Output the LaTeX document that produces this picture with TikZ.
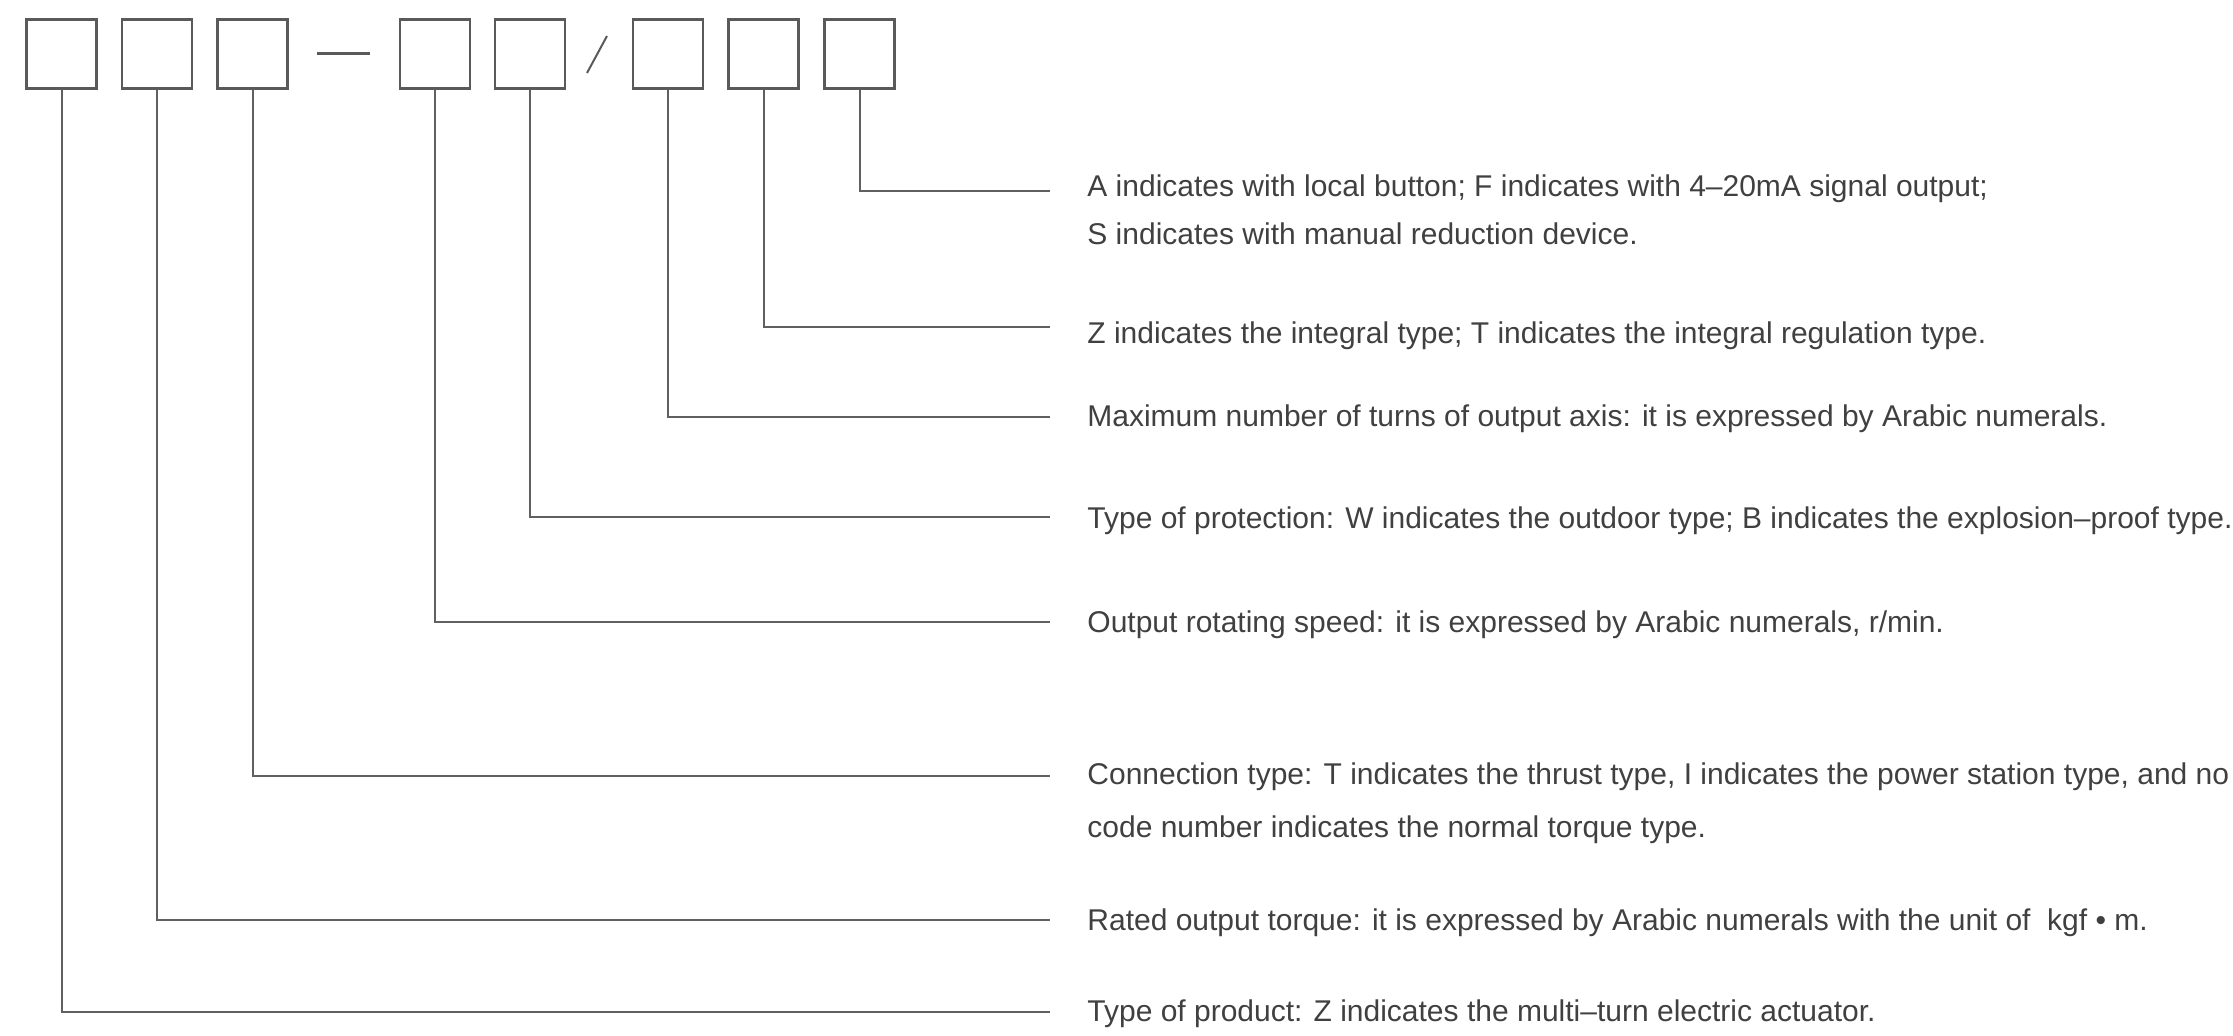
\documentclass[tikz,border=0pt]{standalone}
\usepackage{fontspec}
\setmainfont{Liberation Sans}
\definecolor{boxgray}{HTML}{5A5A5A}
\definecolor{leadgray}{HTML}{606060}
\definecolor{textgray}{HTML}{404040}

\begin{document}
\begin{tikzpicture}[x=0.5pt,y=-0.5pt,
  codebox/.style={draw=boxgray,line width=1.2pt,minimum width=35pt,minimum height=34.5pt,inner sep=0pt},
  lead/.style={draw=leadgray,line width=1pt},
  desc/.style={anchor=base west,inner sep=0pt,text=textgray,align=left,
    font=\fontsize{15pt}{24pt}\selectfont}]
\useasboundingbox (0,0) rectangle (2233,1036);
\node (b1) [codebox] at (61.5,54) {};
\node (b2) [codebox] at (157,54) {};
\node (b3) [codebox] at (252.5,54) {};
\node (b4) [codebox] at (435,54) {};
\node (b5) [codebox] at (530,54) {};
\node (b6) [codebox] at (668,54) {};
\node (b7) [codebox] at (763.5,54) {};
\node (b8) [codebox] at (859.5,54) {};
\draw [boxgray,line width=1.5pt] (317,54) -- (370,54);
\draw [boxgray,line width=1pt] (607,36) -- (587,73);
\coordinate (e8) at (1050,191);
\coordinate (e7) at (1050,327);
\coordinate (e6) at (1050,417);
\coordinate (e5) at (1050,517);
\coordinate (e4) at (1050,622);
\coordinate (e3) at (1050,776);
\coordinate (e2) at (1050,920);
\coordinate (e1) at (1050,1012);
\draw [lead] (b8.south) |- (e8);
\draw [lead] (b7.south) |- (e7);
\draw [lead] (b6.south) |- (e6);
\draw [lead] (b5.south) |- (e5);
\draw [lead] (b4.south) |- (e4);
\draw [lead] (b3.south) |- (e3);
\draw [lead] (b2.south) |- (e2);
\draw [lead] (b1.south) |- (e1);
% two-line texts sit on the baseline of their last line
\node (t8) [desc] at (1087,245) {A indicates with local button; F indicates with 4–20mA signal output;\\S indicates with manual reduction device.};
\node (t7) [desc] at (1087,344) {Z indicates the integral type; T indicates the integral regulation type.};
\node (t6) [desc] at (1087,427) {Maximum number of turns of output axis: it is expressed by Arabic numerals.};
\node (t5) [desc] at (1087,529) {Type of protection: W indicates the outdoor type; B indicates the explosion–proof type.};
\node (t4) [desc] at (1087,633) {Output rotating speed: it is expressed by Arabic numerals, r/min.};
\node (t3) [desc] at (1087,838) {Connection type: T indicates the thrust type, I indicates the power station type, and no\\[2.5pt]code number indicates the normal torque type.};
\node (t2) [desc] at (1087,930) {Rated output torque: it is expressed by Arabic numerals with the unit of~~kgf • m.};
\node (t1) [desc] at (1087,1021) {Type of product: Z indicates the multi–turn electric actuator.};
\end{tikzpicture}
\end{document}
